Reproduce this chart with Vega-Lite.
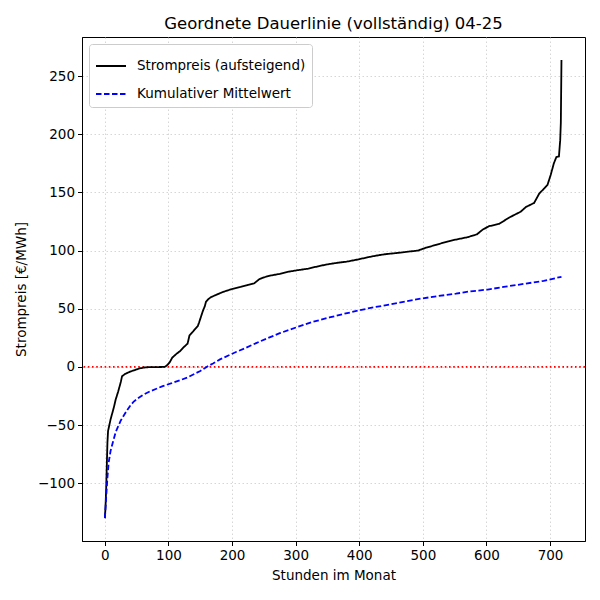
{
  "$schema": "https://vega.github.io/schema/vega-lite/v6.json",
  "autosize": "none",
  "width": 503,
  "height": 504,
  "padding": {"left": 82, "top": 37, "right": 15, "bottom": 59},
  "background": "white",
  "title": {
    "text": "Geordnete Dauerlinie (vollständig) 04-25",
    "font": "DejaVu Sans",
    "fontSize": 16.5,
    "fontWeight": "normal",
    "color": "black",
    "offset": 5
  },
  "datasets": {
    "kurve": [
      {"h": 0, "v": -130, "s": "Strompreis (aufsteigend)"},
      {"h": 1, "v": -120, "s": "Strompreis (aufsteigend)"},
      {"h": 2, "v": -105, "s": "Strompreis (aufsteigend)"},
      {"h": 3, "v": -85, "s": "Strompreis (aufsteigend)"},
      {"h": 4, "v": -65, "s": "Strompreis (aufsteigend)"},
      {"h": 5, "v": -55, "s": "Strompreis (aufsteigend)"},
      {"h": 7, "v": -50, "s": "Strompreis (aufsteigend)"},
      {"h": 9, "v": -45, "s": "Strompreis (aufsteigend)"},
      {"h": 11, "v": -41, "s": "Strompreis (aufsteigend)"},
      {"h": 14, "v": -35, "s": "Strompreis (aufsteigend)"},
      {"h": 17, "v": -28, "s": "Strompreis (aufsteigend)"},
      {"h": 21, "v": -21, "s": "Strompreis (aufsteigend)"},
      {"h": 25, "v": -13, "s": "Strompreis (aufsteigend)"},
      {"h": 27, "v": -8, "s": "Strompreis (aufsteigend)"},
      {"h": 32, "v": -6, "s": "Strompreis (aufsteigend)"},
      {"h": 40, "v": -4, "s": "Strompreis (aufsteigend)"},
      {"h": 48, "v": -2.5, "s": "Strompreis (aufsteigend)"},
      {"h": 55, "v": -1.2, "s": "Strompreis (aufsteigend)"},
      {"h": 62, "v": -0.5, "s": "Strompreis (aufsteigend)"},
      {"h": 70, "v": -0.2, "s": "Strompreis (aufsteigend)"},
      {"h": 85, "v": -0.1, "s": "Strompreis (aufsteigend)"},
      {"h": 94, "v": 0, "s": "Strompreis (aufsteigend)"},
      {"h": 98, "v": 1.5, "s": "Strompreis (aufsteigend)"},
      {"h": 102, "v": 4, "s": "Strompreis (aufsteigend)"},
      {"h": 106, "v": 8, "s": "Strompreis (aufsteigend)"},
      {"h": 112, "v": 11, "s": "Strompreis (aufsteigend)"},
      {"h": 118, "v": 13.5, "s": "Strompreis (aufsteigend)"},
      {"h": 124, "v": 17, "s": "Strompreis (aufsteigend)"},
      {"h": 130, "v": 20, "s": "Strompreis (aufsteigend)"},
      {"h": 133, "v": 27, "s": "Strompreis (aufsteigend)"},
      {"h": 138, "v": 30, "s": "Strompreis (aufsteigend)"},
      {"h": 141, "v": 32, "s": "Strompreis (aufsteigend)"},
      {"h": 146, "v": 35, "s": "Strompreis (aufsteigend)"},
      {"h": 148, "v": 38, "s": "Strompreis (aufsteigend)"},
      {"h": 151, "v": 43, "s": "Strompreis (aufsteigend)"},
      {"h": 154, "v": 48, "s": "Strompreis (aufsteigend)"},
      {"h": 157, "v": 52, "s": "Strompreis (aufsteigend)"},
      {"h": 159, "v": 56, "s": "Strompreis (aufsteigend)"},
      {"h": 163, "v": 58.5, "s": "Strompreis (aufsteigend)"},
      {"h": 167, "v": 60, "s": "Strompreis (aufsteigend)"},
      {"h": 175, "v": 62, "s": "Strompreis (aufsteigend)"},
      {"h": 186, "v": 64.5, "s": "Strompreis (aufsteigend)"},
      {"h": 200, "v": 67, "s": "Strompreis (aufsteigend)"},
      {"h": 215, "v": 69, "s": "Strompreis (aufsteigend)"},
      {"h": 225, "v": 70.5, "s": "Strompreis (aufsteigend)"},
      {"h": 235, "v": 72, "s": "Strompreis (aufsteigend)"},
      {"h": 243, "v": 75.5, "s": "Strompreis (aufsteigend)"},
      {"h": 250, "v": 77, "s": "Strompreis (aufsteigend)"},
      {"h": 260, "v": 78.5, "s": "Strompreis (aufsteigend)"},
      {"h": 275, "v": 80, "s": "Strompreis (aufsteigend)"},
      {"h": 290, "v": 82, "s": "Strompreis (aufsteigend)"},
      {"h": 301, "v": 83, "s": "Strompreis (aufsteigend)"},
      {"h": 320, "v": 84.5, "s": "Strompreis (aufsteigend)"},
      {"h": 335, "v": 86.5, "s": "Strompreis (aufsteigend)"},
      {"h": 348, "v": 88, "s": "Strompreis (aufsteigend)"},
      {"h": 365, "v": 89.5, "s": "Strompreis (aufsteigend)"},
      {"h": 380, "v": 90.5, "s": "Strompreis (aufsteigend)"},
      {"h": 399, "v": 92.5, "s": "Strompreis (aufsteigend)"},
      {"h": 415, "v": 94.5, "s": "Strompreis (aufsteigend)"},
      {"h": 430, "v": 96, "s": "Strompreis (aufsteigend)"},
      {"h": 442, "v": 97, "s": "Strompreis (aufsteigend)"},
      {"h": 460, "v": 98, "s": "Strompreis (aufsteigend)"},
      {"h": 475, "v": 99, "s": "Strompreis (aufsteigend)"},
      {"h": 492, "v": 100, "s": "Strompreis (aufsteigend)"},
      {"h": 505, "v": 102.5, "s": "Strompreis (aufsteigend)"},
      {"h": 521, "v": 105, "s": "Strompreis (aufsteigend)"},
      {"h": 540, "v": 108, "s": "Strompreis (aufsteigend)"},
      {"h": 552, "v": 109.5, "s": "Strompreis (aufsteigend)"},
      {"h": 570, "v": 111.5, "s": "Strompreis (aufsteigend)"},
      {"h": 585, "v": 114, "s": "Strompreis (aufsteigend)"},
      {"h": 594, "v": 118, "s": "Strompreis (aufsteigend)"},
      {"h": 604, "v": 121, "s": "Strompreis (aufsteigend)"},
      {"h": 620, "v": 123, "s": "Strompreis (aufsteigend)"},
      {"h": 636, "v": 128.5, "s": "Strompreis (aufsteigend)"},
      {"h": 654, "v": 133.5, "s": "Strompreis (aufsteigend)"},
      {"h": 662, "v": 137.5, "s": "Strompreis (aufsteigend)"},
      {"h": 675, "v": 141, "s": "Strompreis (aufsteigend)"},
      {"h": 683, "v": 149, "s": "Strompreis (aufsteigend)"},
      {"h": 690, "v": 153, "s": "Strompreis (aufsteigend)"},
      {"h": 696, "v": 156.5, "s": "Strompreis (aufsteigend)"},
      {"h": 701, "v": 165, "s": "Strompreis (aufsteigend)"},
      {"h": 706, "v": 175, "s": "Strompreis (aufsteigend)"},
      {"h": 710, "v": 180.5, "s": "Strompreis (aufsteigend)"},
      {"h": 714, "v": 181, "s": "Strompreis (aufsteigend)"},
      {"h": 716, "v": 195, "s": "Strompreis (aufsteigend)"},
      {"h": 717, "v": 210, "s": "Strompreis (aufsteigend)"},
      {"h": 718, "v": 264, "s": "Strompreis (aufsteigend)"},
      {"h": 0, "v": -130, "s": "Kumulativer Mittelwert"},
      {"h": 2, "v": -112, "s": "Kumulativer Mittelwert"},
      {"h": 4, "v": -95, "s": "Kumulativer Mittelwert"},
      {"h": 6, "v": -82, "s": "Kumulativer Mittelwert"},
      {"h": 9, "v": -72, "s": "Kumulativer Mittelwert"},
      {"h": 13, "v": -64, "s": "Kumulativer Mittelwert"},
      {"h": 17, "v": -56, "s": "Kumulativer Mittelwert"},
      {"h": 21, "v": -51, "s": "Kumulativer Mittelwert"},
      {"h": 25, "v": -46, "s": "Kumulativer Mittelwert"},
      {"h": 29, "v": -42.5, "s": "Kumulativer Mittelwert"},
      {"h": 34, "v": -38, "s": "Kumulativer Mittelwert"},
      {"h": 39, "v": -34, "s": "Kumulativer Mittelwert"},
      {"h": 45, "v": -30, "s": "Kumulativer Mittelwert"},
      {"h": 52, "v": -27, "s": "Kumulativer Mittelwert"},
      {"h": 60, "v": -24, "s": "Kumulativer Mittelwert"},
      {"h": 71, "v": -21, "s": "Kumulativer Mittelwert"},
      {"h": 80, "v": -19, "s": "Kumulativer Mittelwert"},
      {"h": 91, "v": -16.5, "s": "Kumulativer Mittelwert"},
      {"h": 105, "v": -14, "s": "Kumulativer Mittelwert"},
      {"h": 118, "v": -11.5, "s": "Kumulativer Mittelwert"},
      {"h": 130, "v": -9, "s": "Kumulativer Mittelwert"},
      {"h": 139, "v": -6.5, "s": "Kumulativer Mittelwert"},
      {"h": 150, "v": -3.5, "s": "Kumulativer Mittelwert"},
      {"h": 160, "v": 0, "s": "Kumulativer Mittelwert"},
      {"h": 170, "v": 3, "s": "Kumulativer Mittelwert"},
      {"h": 181, "v": 6.5, "s": "Kumulativer Mittelwert"},
      {"h": 195, "v": 10, "s": "Kumulativer Mittelwert"},
      {"h": 207, "v": 13, "s": "Kumulativer Mittelwert"},
      {"h": 222, "v": 16.5, "s": "Kumulativer Mittelwert"},
      {"h": 238, "v": 20.5, "s": "Kumulativer Mittelwert"},
      {"h": 255, "v": 24.5, "s": "Kumulativer Mittelwert"},
      {"h": 275, "v": 29, "s": "Kumulativer Mittelwert"},
      {"h": 301, "v": 34, "s": "Kumulativer Mittelwert"},
      {"h": 325, "v": 38.5, "s": "Kumulativer Mittelwert"},
      {"h": 353, "v": 42.5, "s": "Kumulativer Mittelwert"},
      {"h": 375, "v": 45.5, "s": "Kumulativer Mittelwert"},
      {"h": 399, "v": 48.5, "s": "Kumulativer Mittelwert"},
      {"h": 420, "v": 51, "s": "Kumulativer Mittelwert"},
      {"h": 447, "v": 53.5, "s": "Kumulativer Mittelwert"},
      {"h": 475, "v": 56.5, "s": "Kumulativer Mittelwert"},
      {"h": 500, "v": 59, "s": "Kumulativer Mittelwert"},
      {"h": 525, "v": 61, "s": "Kumulativer Mittelwert"},
      {"h": 552, "v": 63, "s": "Kumulativer Mittelwert"},
      {"h": 575, "v": 65, "s": "Kumulativer Mittelwert"},
      {"h": 602, "v": 66.5, "s": "Kumulativer Mittelwert"},
      {"h": 630, "v": 69, "s": "Kumulativer Mittelwert"},
      {"h": 660, "v": 71.5, "s": "Kumulativer Mittelwert"},
      {"h": 690, "v": 74, "s": "Kumulativer Mittelwert"},
      {"h": 718, "v": 77.5, "s": "Kumulativer Mittelwert"}
    ]
  },
  "layer": [
    {
      "data": {"values": [{"null_linie": 0}]},
      "mark": {"type": "rule", "color": "red", "strokeWidth": 1.6, "strokeDash": [1.6, 2.6]},
      "encoding": {"y": {"field": "null_linie", "type": "quantitative"}}
    },
    {
      "data": {"name": "kurve"},
      "mark": {"type": "line", "strokeWidth": 1.8, "clip": true},
      "encoding": {
        "x": {
          "field": "h",
          "type": "quantitative",
          "title": "Stunden im Monat",
          "scale": {"domain": [-36, 755], "nice": false, "zero": false},
          "axis": {"values": [0, 100, 200, 300, 400, 500, 600, 700]}
        },
        "y": {
          "field": "v",
          "type": "quantitative",
          "title": "Strompreis [€/MWh]",
          "scale": {"domain": [-149.7, 283.7], "nice": false, "zero": false},
          "axis": {"values": [-100, -50, 0, 50, 100, 150, 200, 250], "labelExpr": "replace(datum.label, '-', '−')"}
        },
        "color": {
          "field": "s",
          "type": "nominal",
          "title": null,
          "scale": {
            "domain": ["Strompreis (aufsteigend)", "Kumulativer Mittelwert"],
            "range": ["black", "blue"]
          }
        },
        "strokeDash": {
          "field": "s",
          "type": "nominal",
          "title": null,
          "scale": {
            "domain": ["Strompreis (aufsteigend)", "Kumulativer Mittelwert"],
            "range": [[1, 0], [5.5, 2.5]]
          }
        }
      }
    }
  ],
  "config": {
    "font": "DejaVu Sans",
    "view": {"stroke": "black", "strokeWidth": 1},
    "axis": {
      "labelFont": "DejaVu Sans",
      "titleFont": "DejaVu Sans",
      "labelFontSize": 13.5,
      "titleFontSize": 13.5,
      "titleFontWeight": "normal",
      "labelColor": "black",
      "titleColor": "black",
      "domainColor": "black",
      "tickColor": "black",
      "tickSize": 4.5,
      "labelPadding": 3,
      "grid": true,
      "gridColor": "#cccccc",
      "gridDash": [1.5, 2.5],
      "gridWidth": 0.8
    },
    "axisX": {"titlePadding": 6},
    "axisY": {"titlePadding": 9},
    "legend": {
      "orient": "top-left",
      "offset": 7,
      "labelFont": "DejaVu Sans",
      "labelFontSize": 13.5,
      "labelColor": "black",
      "labelLimit": 300,
      "symbolType": "stroke",
      "symbolSize": 900,
      "symbolStrokeWidth": 1.8,
      "strokeColor": "#cccccc",
      "fillColor": "white",
      "cornerRadius": 3,
      "padding": 6,
      "rowPadding": 5,
      "labelOffset": 10
    }
  }
}
